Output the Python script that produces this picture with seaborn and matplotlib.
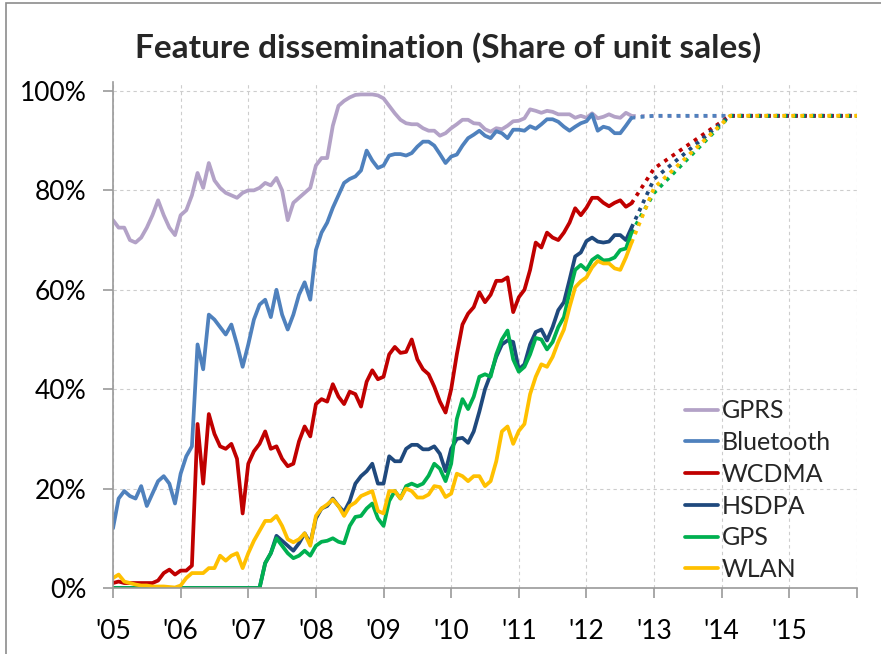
import numpy as np
import pandas as pd
import matplotlib
matplotlib.use("Agg")
import matplotlib.pyplot as plt
from matplotlib.ticker import PercentFormatter
from matplotlib.patches import Rectangle
import seaborn as sns

# monthly share of unit sales (%), Jan 2005 .. Sep 2012
features = ["GPRS", "Bluetooth", "WCDMA", "HSDPA", "GPS", "WLAN"]
colors = ["#B3A2C7", "#4F81BD", "#C00000", "#1F497D", "#00B050", "#FFC000"]

gprs = [74, 72.5, 72.5, 70, 69.5, 70.5, 72.5, 75, 78, 75, 72.5, 71,
        75, 76, 79, 83.5, 80.5, 85.5, 82, 80.5, 79.5, 79, 78.5, 79.5,
        80, 80, 80.5, 81.5, 81, 82.5, 80, 74, 77.5, 78.5, 79.5, 80.5,
        85, 86.5, 86.5, 93, 97, 98, 98.7, 99.2, 99.3, 99.3, 99.3, 99.1,
        98.5, 97, 95.5, 94.2, 93.5, 93.3, 93.3, 92.5, 92, 92, 91, 91.5,
        92.5, 93.3, 94.2, 94.2, 93.5, 93.4, 92.3, 91.8, 92.5, 92.3, 93, 93.9,
        94, 94.5, 96.3, 96, 95.6, 96, 95.8, 95.3, 95.3, 95.3, 94.6, 95,
        94.6, 95.5, 94.5, 94.8, 95.3, 94.8, 94.6, 95.6, 95]
bluetooth = [12, 18, 19.5, 18.5, 18, 20.5, 16.5, 19, 21.5, 22.5, 21, 17,
             23, 26.5, 28.5, 49, 44, 55, 54, 52.5, 51, 53, 49, 44.5,
             49, 54, 57, 58, 54.5, 60, 55, 52, 55, 59, 61.5, 58,
             68, 71.5, 73.5, 76.5, 79, 81.5, 82.3, 82.8, 84, 88, 86, 84.5,
             85, 87, 87.3, 87.3, 87, 87.5, 88.8, 89.8, 89.8, 89, 87.3, 85.5,
             86.8, 87.2, 89, 90.5, 91.2, 92, 91, 90.5, 91.9, 91.5, 90.5, 92.2,
             92.2, 92, 92.9, 92.4, 93.3, 94.3, 94.3, 93.8, 92.8, 92, 92.8, 93.5,
             93.9, 95.3, 92, 92.8, 92.5, 91.5, 91.5, 93, 94.6]
wcdma = [1, 1.3, 1, 1, 1, 1, 1, 1, 1.5, 3, 3.7, 2.7,
         3.5, 3.5, 4.5, 33, 21, 35, 31, 28.5, 28, 29, 26, 15,
         25, 27.5, 29, 31.5, 28, 28.5, 26, 24.5, 25, 29.5, 32.5, 30.5,
         37, 38, 37.5, 41, 38.5, 37, 39.5, 39, 36.5, 41.5, 43.8, 42,
         42.5, 47, 48.5, 47.3, 47.5, 50, 46, 44, 43, 40.5, 37.5, 35.3,
         40, 47, 53, 55.2, 56.5, 59.5, 57.5, 59, 61.8, 61.8, 62.5, 55.5,
         58.5, 60, 64, 69.5, 68.5, 71.5, 70.5, 70, 71.5, 73.5, 76.4, 75,
         76.5, 78.5, 78.5, 77.5, 76.8, 77.5, 78, 76.7, 77.4]
hsdpa = [0] * 27 + [5, 7, 10.5, 9.5, 8.5, 7.5, 9, 11, 9,
                    14, 16, 16.5, 18, 16.5, 15.3, 17.5, 21, 22.5, 23.5, 25, 21,
                    21, 26.5, 25.5, 25.5, 28, 28.8, 28.8, 27.9, 27.9, 28.5, 27, 23.5,
                    28, 30, 30.2, 29.2, 31.5, 35.5, 40, 43, 46.5, 49, 49.8, 49.5,
                    44, 45, 49, 51.5, 52, 49.8, 52.5, 55.9, 57.5, 62, 66.7, 67.5,
                    69.8, 70.5, 69.7, 69.5, 69.7, 71, 71, 70, 72.5]
gps = [0] * 27 + [5, 7, 10, 8.5, 7, 6, 6.5, 7.5, 6.5,
                  8.5, 9.3, 9.5, 10, 9.3, 9, 12.5, 14.3, 14.5, 16, 17, 14,
                  12.5, 17.5, 19.5, 18, 20.5, 21, 20.5, 21, 22.6, 25, 24, 21.5,
                  25, 34, 38, 36, 38.5, 42.5, 43, 42.5, 47, 50, 51.8, 46,
                  43.5, 44.5, 47, 50.3, 50, 48, 49.5, 52.5, 54.5, 59.5, 64, 65,
                  64, 66, 66.8, 65.9, 66, 66.5, 68, 68.3, 71.5]
wlan = [2, 2.7, 1.3, 1, 0.7, 0.5, 0.5, 0.3, 0.3, 0.3, 0.2, 0.1,
        0.5, 2, 3, 3, 3, 4, 4, 6.5, 5.5, 6.5, 7, 4,
        7, 9.5, 11.5, 13.5, 13.5, 14.5, 12.5, 9.8, 9.2, 9.8, 11, 8.5,
        14.5, 16, 16.8, 17.8, 16.5, 14.5, 16.5, 17.2, 18.5, 19, 19.5, 15.5,
        15, 19.5, 19.5, 18, 20, 19.5, 18.2, 18.2, 18.8, 20.5, 20.3, 18.3,
        19, 23, 22.5, 21.5, 22.5, 22.5, 20.5, 21.5, 25.5, 31.5, 32.5, 29,
        31.6, 33, 39, 42.5, 45, 44.5, 46.5, 49.5, 52, 56.5, 60.5, 61.7,
        62.5, 64.5, 65.8, 65.3, 65.3, 64.3, 64, 66.5, 69.5]

# projection (dotted) from Sep 2012 to end of 2015
proj_years = [2012 + 8 / 12, 2013.0, 2014.125, 2016.0]
proj_gprs = [95, 95, 95, 95]
proj_bluetooth = [94.6, 95, 95, 95]
proj_wcdma = [77.4, 84.4, 95, 95]
proj_hsdpa = [72.5, 82.3, 95, 95]
proj_gps = [71.5, 79.5, 95, 95]
proj_wlan = [69.5, 80.5, 95, 95]

year_ticks = list(range(2005, 2017))
year_labels = ["'05", "'06", "'07", "'08", "'09", "'10", "'11", "'12", "'13", "'14", "'15", ""]

series = [gprs, bluetooth, wcdma, hsdpa, gps, wlan]
proj = [proj_gprs, proj_bluetooth, proj_wcdma, proj_hsdpa, proj_gps, proj_wlan]

rows = []
for name, vals in zip(features, series):
    for i, v in enumerate(vals):
        rows.append((name, 2005 + i / 12, v))
df = pd.DataFrame(rows, columns=["feature", "year", "share"])

prow = []
for name, vals in zip(features, proj):
    for x, v in zip(proj_years, vals):
        prow.append((name, x, v))
dfp = pd.DataFrame(prow, columns=["feature", "year", "share"])

sns.set_style("white")
plt.rcParams["font.family"] = ["Lato", "DejaVu Sans"]

fig = plt.figure(figsize=(8.81, 6.54), dpi=100)
ax = fig.add_axes([113 / 881, 1 - 588 / 654, (857 - 113) / 881, (588 - 82) / 654])
pal = dict(zip(features, colors))

sns.lineplot(data=dfp, x="year", y="share", hue="feature", hue_order=features,
             palette=pal, linewidth=2.7, linestyle=(0, (1, 1.4)),
             legend=False, ax=ax)
sns.lineplot(data=df, x="year", y="share", hue="feature", hue_order=features,
             palette=pal, linewidth=2.7, ax=ax)
for ln in ax.lines:
    ln.set_solid_capstyle("round")
    ln.set_solid_joinstyle("round")

ax.set_xlim(2005, 2016)
ax.set_ylim(0, 101.8)
ax.set_xticks(year_ticks)
ax.set_xticklabels(year_labels)
ax.set_yticks([0, 20, 40, 60, 80, 100])
ax.yaxis.set_major_formatter(PercentFormatter(xmax=100, decimals=0))
ax.set_xlabel("")
ax.set_ylabel("")

ax.grid(True, color="#CDCDCD", linestyle=(0, (3, 3)), linewidth=0.8)
for s in ["top", "right"]:
    ax.spines[s].set_visible(False)
for s in ["left", "bottom"]:
    ax.spines[s].set_color("#9A9A9A")
    ax.spines[s].set_linewidth(1.2)
ax.tick_params(axis="both", direction="out", length=7, width=1.2, color="#9A9A9A",
               labelsize=19, labelcolor="black")
ax.tick_params(axis="y", pad=12)
ax.tick_params(axis="x", pad=15)
ax.tick_params(left=True, bottom=True)

leg = ax.legend(loc="upper left", bbox_to_anchor=(0.769, 0.373), frameon=False,
                fontsize=18, handlelength=1.32, handletextpad=0.15,
                labelspacing=0.35, borderpad=0, borderaxespad=0)
for h in leg.get_lines():
    h.set_linewidth(2.7)

fig.text(0.509, 1 - 58 / 654, "Feature dissemination (Share of unit sales)",
         ha="center", va="baseline", fontsize=24, fontweight="bold")

fig.patches.append(Rectangle((6 / 881, -0.1), 1.2, 1.1 - 3 / 654, transform=fig.transFigure,
                             fill=False, edgecolor="#8C8C8C", linewidth=1.2))

fig.savefig("out.png", dpi=100)
